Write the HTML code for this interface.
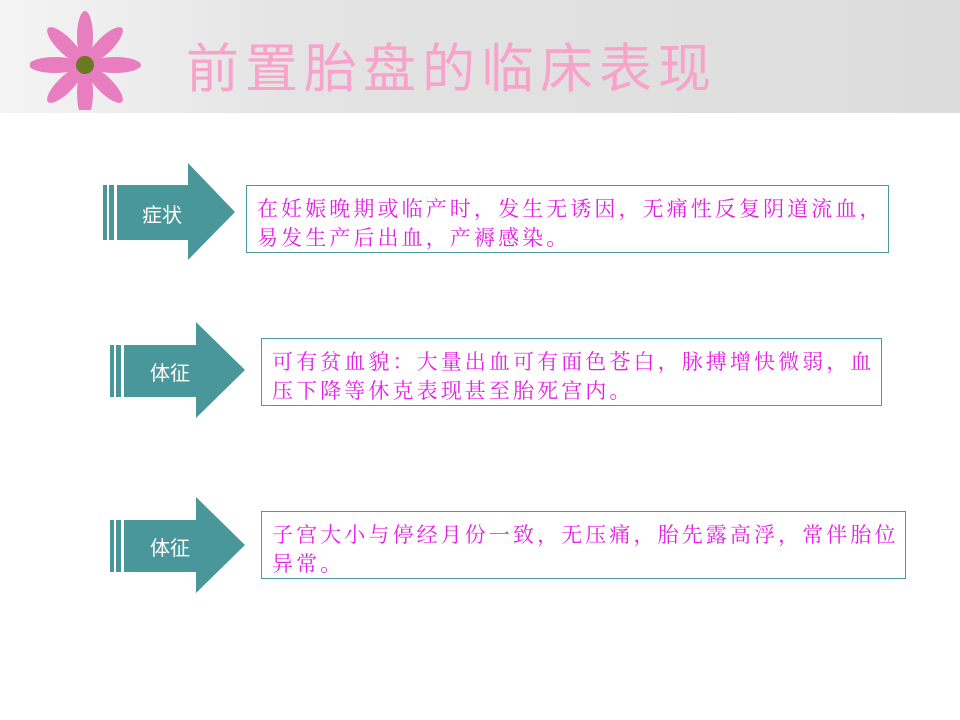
<!DOCTYPE html><html><head><meta charset="utf-8"><style>
body{margin:0;width:960px;height:720px;position:relative;overflow:hidden;background:#fff;font-family:"Liberation Sans","Noto Sans CJK SC",sans-serif}
.hdr{position:absolute;left:0;top:0;width:960px;height:113px;background:linear-gradient(90deg,#f4f4f4,#e4e4e4 30%,#dcdcdc)}
.title{position:absolute;left:186px;top:30px;font-size:53px;color:#f7a3cb;letter-spacing:6px;line-height:70px;font-family:"Noto Sans CJK SC",sans-serif}
.box{position:absolute;border:1px solid #4a9aa0;background:#fff;color:#e61ee6;font-size:21px;line-height:29px;padding:8px 0 0 10px;box-sizing:border-box;font-family:"Noto Serif CJK SC","Noto Sans CJK SC",serif;white-space:nowrap;letter-spacing:3.1px}
.box div{height:29px}
.lbl{position:absolute;color:#fff;font-size:20px;font-family:"Noto Sans CJK SC",sans-serif}
</style></head><body>
<div class="hdr"></div>
<svg style="position:absolute;left:30px;top:10px" width="120" height="100"><g transform="translate(55,55)" fill="#e87ec0">
<ellipse cx="0" cy="-28" rx="8" ry="26"/><ellipse cx="0" cy="28" rx="8" ry="26"/><ellipse cx="-30" cy="0" rx="26" ry="8"/><ellipse cx="30" cy="0" rx="26" ry="8"/>
<ellipse cx="20" cy="-20" rx="8" ry="24" transform="rotate(45 20 -20)"/><ellipse cx="-20" cy="20" rx="8" ry="24" transform="rotate(45 -20 20)"/><ellipse cx="-20" cy="-20" rx="8" ry="24" transform="rotate(-45 -20 -20)"/><ellipse cx="20" cy="20" rx="8" ry="24" transform="rotate(-45 20 20)"/>
<circle r="9" fill="#6a7a20"/></g></svg>
<div class="title">前置胎盘的临床表现</div>
<svg style="position:absolute;left:0;top:0" width="960" height="720">
<g fill="#4a979b">
<rect x="103" y="185" width="4" height="55"/><rect x="109" y="185" width="5" height="55"/><polygon points="117,185 188,185 188,163 235,212 188,260 188,240 117,240"/>
<rect x="110" y="345" width="4" height="52"/><rect x="116" y="345" width="5" height="52"/><polygon points="124,345 196,345 196,322 245,370 196,418 196,397 124,397"/>
<rect x="110" y="520" width="4" height="52"/><rect x="116" y="520" width="5" height="52"/><polygon points="124,520 196,520 196,497 245,545 196,593 196,572 124,572"/>
</g></svg>
<div class="lbl" style="left:142px;top:199px">症状</div>
<div class="lbl" style="left:150px;top:357px">体征</div>
<div class="lbl" style="left:150px;top:532px">体征</div>
<div class="box" style="left:246px;top:185px;width:643px;height:68px"><div>在妊娠晚期或临产时，发生无诱因，无痛性反复阴道流血，</div><div>易发生产后出血，产褥感染。</div></div>
<div class="box" style="left:261px;top:338px;width:621px;height:68px"><div>可有贫血貌：大量出血可有面色苍白，脉搏增快微弱，血</div><div>压下降等休克表现甚至胎死宫内。</div></div>
<div class="box" style="left:261px;top:511px;width:645px;height:68px"><div>子宫大小与停经月份一致，无压痛，胎先露高浮，常伴胎位</div><div>异常。</div></div>
</body></html>
